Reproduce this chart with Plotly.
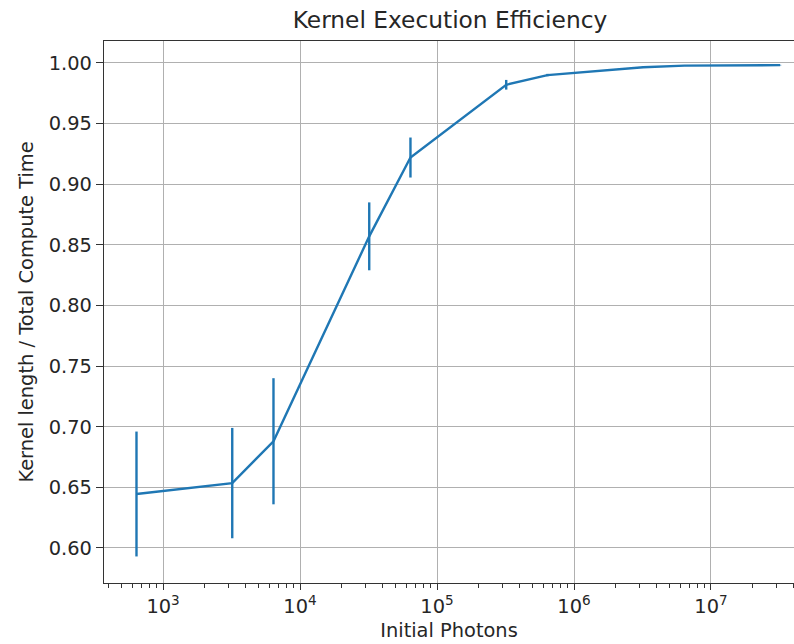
import plotly.graph_objects as go

photons = [640, 3200, 6400, 32000, 64000, 320000, 640000, 3.2e6, 6.4e6, 3.2e7]
efficiency = [0.6445, 0.6535, 0.688, 0.857, 0.922, 0.982, 0.990, 0.9965, 0.9978, 0.9982]
err = [0.0515, 0.0455, 0.052, 0.028, 0.0165, 0.004, 0.001, 0.0005, 0.0003, 0.0002]

xtick_vals = [1e3, 1e4, 1e5, 1e6, 1e7]
xtick_text = ["10<sup>3</sup>", "10<sup>4</sup>", "10<sup>5</sup>", "10<sup>6</sup>", "10<sup>7</sup>"]
minor_decades = [1e2, 1e3, 1e4, 1e5, 1e6, 1e7]
minor_mults = [2, 3, 4, 5, 6, 7, 8, 9]
xminor_vals = [d * m for d in minor_decades for m in minor_mults]
ytick_vals = [0.60, 0.65, 0.70, 0.75, 0.80, 0.85, 0.90, 0.95, 1.00]
ytick_text = ["%.2f" % v for v in ytick_vals]

fig = go.Figure()
fig.add_trace(go.Scatter(
    x=photons, y=efficiency, mode="lines",
    line=dict(color="#1f77b4", width=2.4),
    error_y=dict(type="data", array=err, visible=True, color="#1f77b4",
                 thickness=2.4, width=0),
    showlegend=False,
))

font = "DejaVu Sans, Liberation Sans, sans-serif"
fig.update_layout(
    width=794, height=644,
    margin=dict(l=104, r=0, t=41, b=61),
    paper_bgcolor="white", plot_bgcolor="white",
    font=dict(family=font, size=19.4, color="#262626"),
    title=dict(text="Kernel Execution Efficiency", x=450 / 794, xanchor="center",
               y=1 - 20 / 644, yanchor="middle", yref="container",
               font=dict(size=23.3, color="#262626")),
    xaxis=dict(
        type="log", range=[2.569, 7.606],
        tickvals=xtick_vals, ticktext=xtick_text,
        showgrid=True, gridcolor="#b0b0b0", gridwidth=1.2,
        showline=True, linecolor="#333333", linewidth=1.4, mirror=True,
        ticks="outside", ticklen=6, tickwidth=1.3, tickcolor="#333333",
        minor=dict(tickvals=xminor_vals, ticks="outside", ticklen=3.5, tickwidth=1,
                   tickcolor="#333333", showgrid=False),
        title=dict(text="Initial Photons", standoff=5, font=dict(size=19.4)),
        zeroline=False,
    ),
    yaxis=dict(
        range=[0.5711, 1.0181],
        tickvals=ytick_vals, ticktext=ytick_text,
        showgrid=True, gridcolor="#b0b0b0", gridwidth=1.2,
        showline=True, linecolor="#333333", linewidth=1.4, mirror=False,
        ticks="outside", ticklen=7, tickwidth=1.3, tickcolor="#333333",
        title=dict(text="Kernel length / Total Compute Time", standoff=9,
                   font=dict(size=19.4)),
        zeroline=False,
    ),
)

fig.write_html("out.html")
